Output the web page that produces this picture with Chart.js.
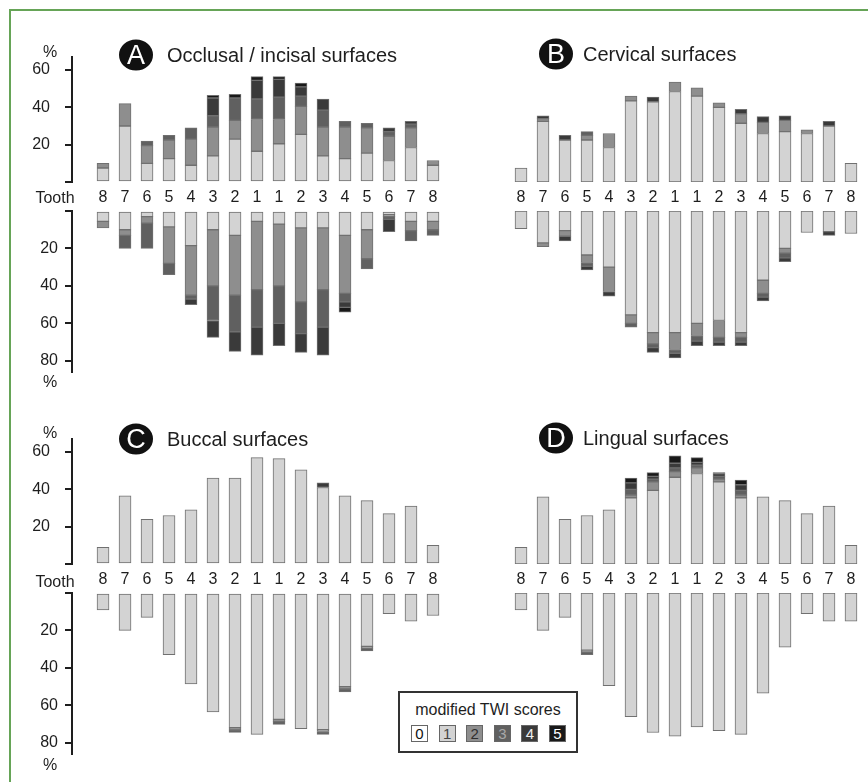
<!DOCTYPE html>
<html>
<head>
<meta charset="utf-8">
<script src="https://cdn.jsdelivr.net/npm/chart.js@4.4.1/dist/chart.umd.min.js"></script>
<style>
  html, body { margin: 0; padding: 0; background: #fff; }
  #page { position: relative; width: 868px; height: 782px; overflow: hidden;
          font-family: "Liberation Sans", Arial, sans-serif; color: #222; }
  .frame { position: absolute; left: 9px; top: 9px; width: 900px; height: 800px;
           border-top: 2px solid #66a457; border-left: 2px solid #66a457; }
  canvas { position: absolute; }
  .lbl { position: absolute; font-size: 16px; line-height: 16px; white-space: nowrap;
         transform: translate(-50%, -50%); color: #1e1e1e; }
  .badge { position: absolute; width: 34px; height: 31px; border-radius: 50%; background: #111;
           color: #fff; font-size: 27px; line-height: 31px; text-align: center;
           transform: translate(-50%, -50%); }
  .title { position: absolute; font-size: 20px; line-height: 20px; white-space: nowrap;
           transform: translateY(-50%); color: #1e1e1e; }
  .legend { position: absolute; left: 398px; top: 691px; width: 176px; height: 58px;
            border: 2px solid #333; background: #fff; }
  .legend .head { position: absolute; left: 0; width: 100%; top: 9px; text-align: center;
                  font-size: 16px; line-height: 16px; color: #1e1e1e; }
  .sw { position: absolute; top: 32px; width: 15px; height: 15px; border: 1px solid #666;
        font-size: 15px; line-height: 15px; text-align: center; }
</style>
</head>
<body>
<div id="page">
  <div class="frame"></div>
</div>
<script>
// Tooth positions along the arch, right side 8..1 then left side 1..8
const teeth = ['8', '7', '6', '5', '4', '3', '2', '1', '1', '2', '3', '4', '5', '6', '7', '8'];

// modified TWI score classes and their shades
const scores = ['0', '1', '2', '3', '4', '5'];
const scoreColors = ['#ffffff', '#d3d3d3', '#8e8e8e', '#606060', '#3a3a3a', '#191919'];
const scoreTextColors = ['#111', '#444', '#2e2e2e', '#a8a8a8', '#eee', '#fff'];

// axis ticks (%)
const upperTicks = [0, 10, 20, 30, 40, 50, 60];
const lowerTicks = [0, 10, 20, 30, 40, 50, 60, 70, 80];
const labelledTicks = [20, 40, 60, 80];

// Percentages per tooth; rows are scores 1..5 (maxilla = upper, mandible = lower)
const occlusalUpper = [
  [7.5, 30, 10, 12.5, 9, 14, 23, 16.5, 20.5, 25.5, 14, 12.5, 15.5, 11.5, 18.5, 9],
  [2.5, 12, 9.5, 10, 14, 15.5, 10, 17, 13, 15, 15.5, 17, 13.5, 13, 10.5, 2.5],
  [0, 0, 2.5, 2.5, 6, 6, 12, 11, 12, 5.5, 9, 3, 2.5, 2.5, 2, 0],
  [0, 0, 0, 0, 0, 9.5, 0, 10, 9.5, 5, 6, 0, 0, 2, 1.5, 0],
  [0, 0, 0, 0, 0, 1.5, 2, 2, 1.5, 2, 0, 0, 0, 0, 0, 0]
];
const occlusalLower = [
  [5.5, 10, 3, 8.5, 18.5, 10, 13, 5.5, 7, 9, 9, 13, 10, 2, 5.5, 5.5],
  [3.5, 3, 3.5, 19.5, 26.5, 30, 32, 36.5, 33, 39.5, 33, 31, 15.5, 1, 5, 4.5],
  [0, 7, 13.5, 6, 2, 18.5, 19.5, 20, 20, 17, 20, 4.5, 5.5, 1.5, 5.5, 3],
  [0, 0, 0, 0, 3, 9, 10.5, 15, 12, 10, 15, 3, 0, 6.5, 0, 0],
  [0, 0, 0, 0, 0, 0, 0, 0, 0, 0, 0, 2.5, 0, 0, 0, 0]
];
const cervicalUpper = [
  [7.5, 32.5, 22.5, 22.5, 18.5, 43.5, 43, 48.5, 46, 40, 31.5, 26, 27, 26, 30, 10],
  [0, 1.5, 0, 2.5, 7.5, 2.5, 0, 5, 4.5, 2.5, 5, 6, 6, 2, 0, 0],
  [0, 0, 0, 2, 0, 0, 0, 0, 0, 0, 0, 0, 0, 0, 0, 0],
  [0, 1.5, 2.5, 0, 0, 0, 2.5, 0, 0, 0, 2.5, 3, 2.5, 0, 2.5, 0],
  [0, 0, 0, 0, 0, 0, 0, 0, 0, 0, 0, 0, 0, 0, 0, 0]
];
const cervicalLower = [
  [9.5, 17, 10.5, 23.5, 30, 55.5, 65, 65, 60, 58.5, 65, 37, 20, 11.5, 11, 12],
  [0, 2, 3, 4, 13, 4.5, 6, 9, 6.5, 9, 2.5, 7, 2.5, 0, 0, 0],
  [0, 0, 0, 2, 0, 2, 2, 2, 3, 2.5, 2.5, 2, 2.5, 0, 0, 0],
  [0, 0, 2.5, 2, 2.5, 0, 2.5, 2.5, 2.5, 2, 2, 2, 2, 0, 2, 0],
  [0, 0, 0, 0, 0, 0, 0, 0, 0, 0, 0, 0, 0, 0, 0, 0]
];
const buccalUpper = [
  [9, 36.5, 24, 26, 29, 46, 46, 57, 56.5, 50.5, 41, 36.5, 34, 27, 31, 10],
  [0, 0, 0, 0, 0, 0, 0, 0, 0, 0, 0, 0, 0, 0, 0, 0],
  [0, 0, 0, 0, 0, 0, 0, 0, 0, 0, 0, 0, 0, 0, 0, 0],
  [0, 0, 0, 0, 0, 0, 0, 0, 0, 0, 2.5, 0, 0, 0, 0, 0],
  [0, 0, 0, 0, 0, 0, 0, 0, 0, 0, 0, 0, 0, 0, 0, 0]
];
const buccalLower = [
  [9, 20, 13, 33, 48.5, 63.5, 72, 75.5, 67.5, 72.5, 73, 50, 28.5, 11, 15, 12],
  [0, 0, 0, 0, 0, 0, 1.2, 0, 1.2, 0, 1, 1.3, 1, 0, 0, 0],
  [0, 0, 0, 0, 0, 0, 1.3, 0, 1.5, 0, 1.5, 1.5, 1.5, 0, 0, 0],
  [0, 0, 0, 0, 0, 0, 0, 0, 0, 0, 0, 0, 0, 0, 0, 0],
  [0, 0, 0, 0, 0, 0, 0, 0, 0, 0, 0, 0, 0, 0, 0, 0]
];
const lingualUpper = [
  [9, 36, 24, 26, 29, 35.5, 39.5, 46.5, 48.5, 44, 35.5, 36, 34, 27, 31, 10],
  [0, 0, 0, 0, 0, 1.5, 4.5, 3, 3, 1.5, 1.5, 0, 0, 0, 0, 0],
  [0, 0, 0, 0, 0, 3, 1.5, 2, 1.5, 1.5, 2.5, 0, 0, 0, 0, 0],
  [0, 0, 0, 0, 0, 3.5, 1.5, 2.5, 1.5, 1.5, 3, 0, 0, 0, 0, 0],
  [0, 0, 0, 0, 0, 2.5, 2, 4, 2.5, 0.5, 2.5, 0, 0, 0, 0, 0]
];
const lingualLower = [
  [9, 20, 13, 30.5, 49.5, 66, 74.5, 76.5, 71.5, 73.5, 75.5, 53.5, 29, 11, 15, 15],
  [0, 0, 0, 1, 0, 0, 0, 0, 0, 0, 0, 0, 0, 0, 0, 0],
  [0, 0, 0, 1.5, 0, 0, 0, 0, 0, 0, 0, 0, 0, 0, 0, 0],
  [0, 0, 0, 0, 0, 0, 0, 0, 0, 0, 0, 0, 0, 0, 0, 0],
  [0, 0, 0, 0, 0, 0, 0, 0, 0, 0, 0, 0, 0, 0, 0, 0]
];

const panels = [
  { letter: 'A', title: 'Occlusal / incisal surfaces', upper: occlusalUpper, lower: occlusalLower, col: 0, row: 0, axis: true },
  { letter: 'B', title: 'Cervical surfaces',           upper: cervicalUpper, lower: cervicalLower, col: 1, row: 0, axis: false },
  { letter: 'C', title: 'Buccal surfaces',             upper: buccalUpper,   lower: buccalLower,   col: 0, row: 1, axis: true },
  { letter: 'D', title: 'Lingual surfaces',            upper: lingualUpper,  lower: lingualLower,  col: 1, row: 1, axis: false }
];

Chart.defaults.font.family = '"Liberation Sans", Arial, sans-serif';
Chart.defaults.color = '#1e1e1e';

const page = document.getElementById('page');
const COL_W = 418, ROW_H = 382;
const INK = '#1e1e1e';

function addDiv(cls, text, x, y) {
  const d = document.createElement('div');
  d.className = cls;
  d.textContent = text;
  d.style.left = x + 'px';
  d.style.top = y + 'px';
  page.appendChild(d);
  return d;
}

function drawHalf(rows, isUpper, showAxis, left, top, height) {
  const cv = document.createElement('canvas');
  cv.width = 450; cv.height = height;
  cv.style.left = left + 'px'; cv.style.top = top + 'px';
  page.appendChild(cv);

  const datasets = rows.map((vals, k) => ({
    label: 'score ' + scores[k + 1],
    data: vals.map((v, i) => ({ x: i, y: v > 0 ? v : null })),
    backgroundColor: scoreColors[k + 1],
    borderColor: '#707070',
    borderWidth: 1,
    borderSkipped: false,
    barThickness: 12
  }));

  new Chart(cv, {
    type: 'bar',
    data: { datasets },
    options: {
      responsive: false,
      animation: false,
      events: [],
      plugins: { legend: { display: false }, tooltip: { enabled: false } },
      layout: { padding: { left: showAxis ? 0 : 72, right: 6, top: isUpper ? 37 : 6, bottom: isUpper ? 0 : 5 } },
      scales: {
        x: {
          type: 'linear', stacked: true, offset: false,
          min: -1.41, max: 15.5,
          display: isUpper,
          grid: { display: false, drawTicks: false },
          border: { display: false },
          afterBuildTicks: s => { s.ticks = teeth.map((t, i) => ({ value: i })); },
          afterFit: s => { if (isUpper) { s.height = 28; s.paddingLeft = 0; s.paddingRight = 0; } },
          ticks: {
            autoSkip: false, maxRotation: 0, minRotation: 0, padding: 6,
            color: INK, font: { size: 16 },
            callback: v => teeth[v]
          }
        },
        y: {
          stacked: true, min: 0, max: isUpper ? 67 : 86, reverse: !isUpper,
          display: showAxis, position: 'left',
          afterBuildTicks: s => { s.ticks = (isUpper ? upperTicks : lowerTicks).map(v => ({ value: v })); },
          afterFit: s => { if (showAxis) { s.width = 72; s.paddingTop = 0; s.paddingBottom = 0; } },
          grid: { drawOnChartArea: false, drawTicks: true, tickLength: 7, color: INK, lineWidth: 2 },
          border: { display: true, color: INK, width: 2 },
          ticks: {
            padding: isUpper ? 15 : 7, color: INK, font: { size: 16 },
            callback: v => labelledTicks.includes(v) ? String(v) : ''
          }
        }
      }
    }
  });
}

panels.forEach(p => {
  const ox = p.col * COL_W, oy = p.row * ROW_H;
  drawHalf(p.upper, true, p.axis, ox, 20 + oy, 190);
  drawHalf(p.lower, false, p.axis, ox, 205 + oy, 172);

  const ty = 55 + oy + p.row * 2 - p.col * 1;
  addDiv('badge', p.letter, 136 + p.col * 420, ty);
  addDiv('title', p.title, 167 + ox - p.col * 2, ty);

  if (p.axis) {
    addDiv('lbl', '%', 50, 52 + oy - p.row * 1);
    addDiv('lbl', '%', 50, 382 + oy + p.row * 1);
    addDiv('lbl', 'Tooth', 55, 198 + oy + p.row * 2);
  }
});

// score key
const legend = document.createElement('div');
legend.className = 'legend';
const head = document.createElement('div');
head.className = 'head';
head.textContent = 'modified TWI scores';
legend.appendChild(head);
scores.forEach((s, i) => {
  const sw = document.createElement('div');
  sw.className = 'sw';
  sw.textContent = s;
  sw.style.left = (11 + i * 27.6) + 'px';
  sw.style.background = scoreColors[i];
  sw.style.color = scoreTextColors[i];
  legend.appendChild(sw);
});
page.appendChild(legend);
</script>
</body>
</html>
